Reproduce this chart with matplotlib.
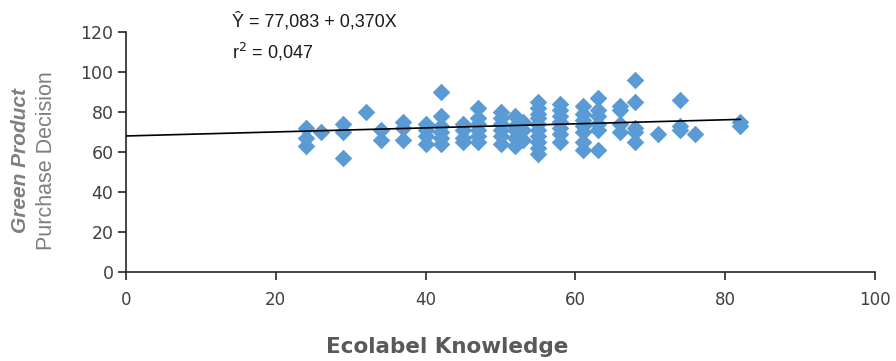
import numpy as np
import matplotlib
matplotlib.use('Agg')
import matplotlib.pyplot as plt

# Ecolabel knowledge (x) vs green product purchase decision (y)
knowledge = [24, 24, 24, 26, 29, 29, 29, 32, 34, 34, 37, 37, 37,
             40, 40, 40, 40, 42, 42, 42, 42, 42, 42,
             45, 45, 45, 45, 47, 47, 47, 47, 47, 47,
             50, 50, 50, 50, 50, 50, 52, 52, 52, 52, 52,
             53, 53, 53,
             55, 55, 55, 55, 55, 55, 55, 55, 55, 55,
             58, 58, 58, 58, 58, 58, 58,
             61, 61, 61, 61, 61, 61, 61,
             63, 63, 63, 63, 63, 63,
             66, 66, 66, 66, 68, 68, 68, 68, 68,
             71, 74, 74, 74, 76, 82, 82]
decision = [72, 67, 63, 70, 74, 70, 57, 80, 71, 66, 75, 72, 66,
            74, 71, 68, 64, 90, 78, 73, 70, 67, 64,
            74, 71, 67, 65, 82, 77, 74, 71, 68, 65,
            80, 77, 74, 71, 68, 64, 78, 73, 71, 67, 63,
            75, 71, 66,
            85, 82, 79, 77, 74, 71, 68, 65, 62, 59,
            84, 81, 78, 75, 72, 69, 65,
            83, 79, 76, 73, 70, 65, 61,
            87, 81, 78, 74, 71, 61,
            83, 81, 74, 70, 96, 85, 72, 70, 65,
            69, 86, 73, 71, 69, 75, 73]

# trend line end points
trend_x = [0, 82]
trend_y = [68.0, 76.3]

equation = "\u0176 = 77,083 + 0,370X"
r_squared = "r$^2$ = 0,047"

fig = plt.figure(figsize=(8.96, 3.61), dpi=100)
ax = fig.add_axes([0.1406, 0.2465, 0.836, 0.665])

ax.scatter(knowledge, decision, marker='D', s=80, color='#5B9BD5', linewidths=0, zorder=2)
ax.plot(trend_x, trend_y, color='black', lw=1.2, zorder=3)

ax.set_xlim(0, 100)
ax.set_ylim(0, 120)
ax.set_xticks(np.arange(0, 101, 20))
ax.set_yticks(np.arange(0, 121, 20))

for s in ['top', 'right']:
    ax.spines[s].set_visible(False)
for s in ['left', 'bottom']:
    ax.spines[s].set_linewidth(1.2)
    ax.spines[s].set_color('#262626')

ax.tick_params(axis='x', direction='out', length=6, width=1.2, color='#262626',
               labelsize=12, labelcolor='#404040', pad=8)
ax.tick_params(axis='y', direction='out', length=6, width=1.2, color='#262626',
               labelsize=12.5, labelcolor='#404040', pad=3)
for lbl in ax.get_xticklabels():
    lbl.set_family('DejaVu Sans')
for lbl in ax.get_yticklabels():
    lbl.set_family('Liberation Sans Narrow')

fig.text(447 / 896, 1 - 347 / 361, 'Ecolabel Knowledge', fontsize=15.5, fontweight='bold',
         color='#595959', family='DejaVu Sans', ha='center', va='center')

fig.text(0.023, 0.555, 'Green Product', rotation=90, ha='center', va='center',
         fontsize=15, style='italic', fontweight='bold', color='#7f7f7f',
         family='Liberation Sans')
fig.text(0.052, 0.555, 'Purchase Decision', rotation=90, ha='center', va='center',
         fontsize=15.5, color='#7f7f7f', family='Liberation Sans')

fig.text(0.259, 0.94, equation, fontsize=13, color='#1a1a1a', family='Liberation Sans',
         va='center')
fig.text(0.259, 0.855, r_squared, fontsize=13, color='#1a1a1a', family='Liberation Sans',
         va='center')

fig.savefig('out.png', dpi=100)
